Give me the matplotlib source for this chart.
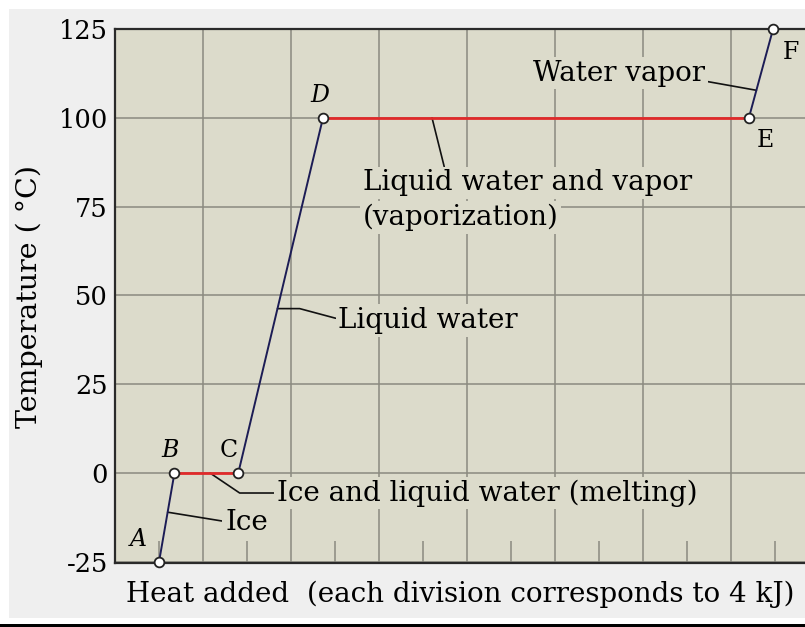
import matplotlib
matplotlib.use("Agg")
import matplotlib.pyplot as plt
from matplotlib.patches import Rectangle

# heating curve of water, heat in kJ (one division = 4 kJ)
heat_kj = [4.0, 5.4, 11.2, 18.9, 57.6, 59.8]
temp_c = [-25, 0, 0, 100, 100, 125]
point_names = ['A', 'B', 'C', 'D', 'E', 'F']
segment_colors = ['#1c1c55', '#e02a2a', '#1c1c55', '#e02a2a', '#1c1c55']

y_ticks = [-25, 0, 25, 50, 75, 100, 125]
grid_x = [0, 8, 16, 24, 32, 40, 48, 56]
minor_x = [4, 12, 20, 28, 36, 44, 52, 60]

plt.rcParams['font.family'] = ['DejaVu Serif']
plt.rcParams['axes.unicode_minus'] = False

face = '#dcdbcb'
gridc = '#8b8a80'
fs = 20

fig = plt.figure(figsize=(8.05, 6.27), dpi=100, facecolor='white')
fig.patches.append(Rectangle((9 / 805, 9 / 627), 1, 609 / 627, transform=fig.transFigure,
                             facecolor='#efefef', edgecolor='none', zorder=-10))
fig.patches.append(Rectangle((0, 0), 1, 3 / 627, transform=fig.transFigure,
                             facecolor='black', edgecolor='none', zorder=-10))

ax = fig.add_axes([115 / 805, 1 - 563 / 627, 1 - 115 / 805, (563 - 29) / 627])
ax.set_facecolor(face)
ax.set_xlim(0, 62.7)
ax.set_ylim(-25.3, 125)

ax.set_axisbelow(True)
ax.set_xticks(grid_x)
ax.set_xticks(minor_x, minor=True)
ax.set_yticks(y_ticks)
ax.grid(True, which='major', color=gridc, lw=1.1)
ax.tick_params(axis='x', which='major', length=0, labelbottom=False)
ax.tick_params(axis='x', which='minor', direction='in', length=16, width=1.1, color=gridc)
ax.tick_params(axis='y', length=0, pad=5, labelsize=18.5)

for s in ['left', 'bottom', 'top']:
    ax.spines[s].set_color('#2a2a2a')
    ax.spines[s].set_linewidth(1.6)
ax.spines['right'].set_visible(False)

ax.set_xlabel('Heat added  (each division corresponds to 4 kJ)', fontsize=fs)
ax.xaxis.set_label_coords(0.5, -0.033)
ax.set_ylabel('Temperature ( °C)', fontsize=20.5)
ax.yaxis.set_label_coords(-0.104, 0.5)

# curve segments
for i, c in enumerate(segment_colors):
    lw = 2.0 if c == '#e02a2a' else 1.4
    ax.plot(heat_kj[i:i + 2], temp_c[i:i + 2], color=c, lw=lw, zorder=4, solid_capstyle='butt')
ax.plot(heat_kj, temp_c, ls='none', marker='o', ms=7, mfc='white', mec='#222222', mew=1.3,
        zorder=5, clip_on=False)

# point letters
letter_pos = [(2.1, -18.8), (5.0, 6.5), (10.3, 6.5), (18.6, 106.2), (59.1, 93.5), (61.4, 118.3)]
letter_style = ['italic', 'italic', 'normal', 'italic', 'normal', 'normal']
for name, (lx, ly), st in zip(point_names, letter_pos, letter_style):
    ax.text(lx, ly, name, fontsize=17, style=st, ha='center', va='center', zorder=6)


def seg_point(i, t):
    return (heat_kj[i] + t * (heat_kj[i + 1] - heat_kj[i]),
            temp_c[i] + t * (temp_c[i + 1] - temp_c[i]))


box = dict(boxstyle='square,pad=0.1', facecolor=face, edgecolor='none')
lead = dict(arrowstyle='-', color='#111111', lw=1.2, shrinkA=0, shrinkB=0)

ax.annotate('Ice', xy=seg_point(0, 0.56), xytext=(10.0, -14.0), fontsize=fs,
            ha='left', va='center', bbox=box, arrowprops=dict(lead, relpos=(0, 0.55)))
ax.annotate('Ice and liquid water (melting)', xy=seg_point(1, 0.56), xytext=(14.7, -5.6),
            fontsize=fs, ha='left', va='center', bbox=box,
            arrowprops=dict(lead, relpos=(0, 0.5), connectionstyle='angle,angleA=0,angleB=-34,rad=0'))
ax.annotate('Liquid water', xy=seg_point(2, 0.463), xytext=(20.3, 43.0), fontsize=fs,
            ha='left', va='center', bbox=box,
            arrowprops=dict(lead, relpos=(0, 0.55), connectionstyle='angle,angleA=165,angleB=0,rad=0'))
ax.annotate('Liquid water and vapor', xy=seg_point(3, 0.256), xytext=(22.5, 81.7), fontsize=fs,
            ha='left', va='center', bbox=box, arrowprops=dict(lead, relpos=(0.25, 1.0)))
ax.text(22.5, 71.9, '(vaporization)', fontsize=fs, ha='left', va='center', bbox=box)
ax.annotate('Water vapor', xy=seg_point(4, 0.31), xytext=(38.0, 112.6), fontsize=fs,
            ha='left', va='center', bbox=box, arrowprops=dict(lead, relpos=(1.0, 0.2)))

fig.savefig('out.png', dpi=100, facecolor=fig.get_facecolor())
